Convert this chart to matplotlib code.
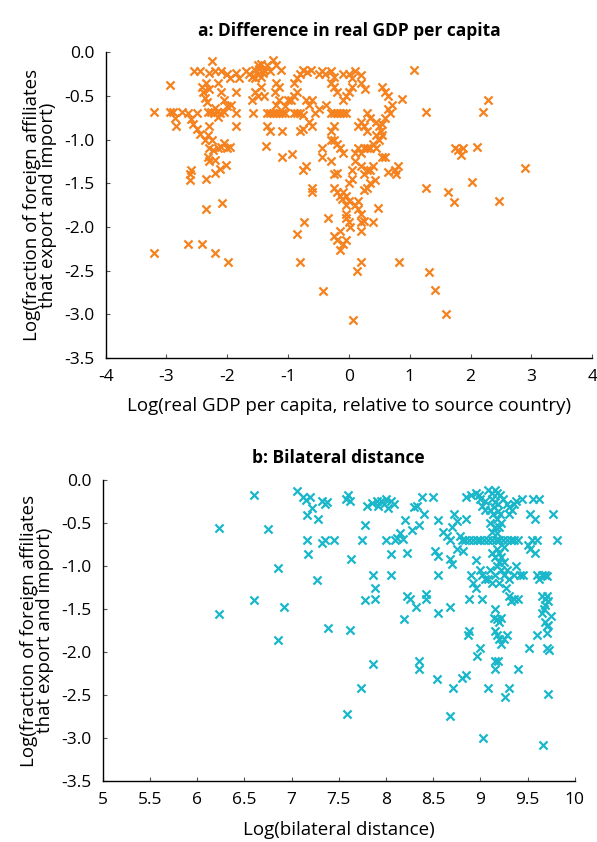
import numpy as np
import matplotlib
matplotlib.use("Agg")
import matplotlib.pyplot as plt
from matplotlib.ticker import FormatStrFormatter

plt.rcParams['font.family'] = ['Open Sans', 'DejaVu Sans']
plt.rcParams['axes.unicode_minus'] = False

# panel a: log GDP per capita relative to source vs log share of affiliates
gdp_pts = [
    (-3.2, -0.68), (-3.2, -2.30), (-2.94, -0.38), (-2.95, -0.68), (-2.9, -0.68), (-2.86, -0.75), (-2.85, -0.84), (-2.75, -0.68),
    (-2.65, -2.20), (-2.65, -0.70), (-2.6, -0.76), (-2.57, -0.82), (-2.6, -1.35), (-2.61, -1.40), (-2.62, -1.46),
    (-2.55, -0.21), (-2.45, -0.21), (-2.5, -0.70), (-2.5, -0.88), (-2.45, -0.94),
    (-2.42, -0.40), (-2.4, -0.46), (-2.37, -0.52), (-2.33, -0.57), (-2.3, -0.42), (-2.35, -0.35), (-2.3, -0.24),
    (-2.41, -2.20), (-2.32, -0.68), (-2.27, -0.68), (-2.22, -0.70), (-2.17, -0.68), (-2.12, -0.70), (-2.06, -0.68),
    (-2.2, -0.64), (-2.15, -0.74),
    (-2.3, -0.84), (-2.32, -0.95), (-2.37, -1.00), (-2.25, -1.00),
    (-2.3, -1.10), (-2.24, -1.12), (-2.16, -1.10), (-2.1, -1.08), (-2.05, -1.04), (-2.0, -1.10), (-1.95, -1.08),
    (-2.32, -1.20), (-2.3, -1.25), (-2.2, -1.24), (-2.35, -1.45), (-2.35, -1.80), (-2.2, -1.38), (-2.12, -1.34),
    (-2.08, -1.73), (-2.2, -2.30), (-1.99, -2.40), (-2.02, -1.29),
    (-2.2, -0.22), (-2.1, -0.22), (-2.0, -0.25), (-1.95, -0.30), (-2.15, -0.35), (-2.1, -0.45), (-2.05, -0.55),
    (-2.0, -0.62), (-1.94, -0.60),
    (-2.25, -0.10), (-1.85, -0.24), (-1.8, -0.30), (-1.85, -0.45), (-1.85, -0.70), (-1.85, -0.84),
    (-1.7, -0.22), (-1.65, -0.25), (-1.6, -0.28), (-1.55, -0.20), (-1.5, -0.15), (-1.45, -0.14), (-1.4, -0.20),
    (-1.5, -0.25), (-1.55, -0.30), (-1.45, -0.28), (-1.48, -0.19), (-1.42, -0.24),
    (-1.35, -0.15), (-1.25, -0.09), (-1.2, -0.15), (-1.3, -0.22),
    (-1.6, -0.55), (-1.55, -0.45), (-1.5, -0.50), (-1.45, -0.40), (-1.4, -0.50), (-1.58, -0.70),
    (-1.35, -0.70), (-1.3, -0.70), (-1.25, -0.70), (-1.2, -0.70), (-1.15, -0.70), (-1.1, -0.70), (-1.05, -0.70),
    (-1.35, -0.85), (-1.3, -0.90), (-1.36, -1.07),
    (-1.2, -0.60), (-1.15, -0.55), (-1.2, -0.35), (-1.15, -0.40), (-1.22, -0.45),
    (-1.11, -0.20), (-1.0, -0.55), (-1.05, -0.62), (-1.1, -0.90), (-1.1, -1.20),
    (-0.9, -0.35), (-0.85, -0.30), (-0.8, -0.25), (-0.75, -0.20), (-0.69, -0.23), (-0.62, -0.20),
    (-0.95, -0.55), (-0.9, -0.50), (-0.85, -0.45),
    (-0.9, -0.70), (-0.85, -0.70), (-0.8, -0.70), (-0.75, -0.72),
    (-0.93, -1.17), (-0.8, -0.90), (-0.75, -0.88),
    (-0.7, -0.55), (-0.65, -0.60), (-0.6, -0.55), (-0.65, -0.80), (-0.6, -0.85),
    (-0.75, -1.35), (-0.7, -1.30), (-0.86, -2.08), (-0.74, -1.94), (-0.8, -2.40),
    (-0.6, -1.55), (-0.6, -1.60), (-0.55, -0.70), (-0.5, -0.65),
    (-0.5, -0.25), (-0.45, -0.22), (-0.4, -0.25), (-0.38, -0.60), (-0.45, -1.10), (-0.45, -1.20),
    (-0.43, -2.73), (-0.34, -1.90),
    (-0.3, -0.22), (-0.25, -0.28), (-0.3, -0.35), (-0.25, -0.40), (-0.2, -0.45),
    (-0.3, -0.70), (-0.25, -0.70), (-0.2, -0.70), (-0.15, -0.70), (-0.1, -0.70), (-0.05, -0.70),
    (-0.25, -0.85), (-0.3, -0.90),
    (-0.3, -1.00), (-0.25, -1.00), (-0.2, -1.05), (-0.15, -1.10), (-0.1, -1.15),
    (-0.3, -1.25), (-0.25, -1.40), (-0.2, -1.38),
    (-0.25, -1.55), (-0.2, -1.60), (-0.15, -1.65), (-0.1, -1.60), (-0.05, -1.65), (0.0, -1.70), (-0.05, -1.75),
    (-0.12, -1.68),
    (-0.25, -2.10), (-0.2, -2.15), (-0.15, -2.05), (-0.1, -2.20), (-0.05, -2.15), (-0.14, -2.27),
    (-0.05, -1.90), (0.0, -1.95), (0.02, -2.00), (-0.05, -1.85),
    (-0.1, -0.25), (0.0, -0.25), (0.05, -0.30), (0.1, -0.22), (0.19, -0.26),
    (-0.1, -0.55), (-0.05, -0.50), (0.0, -0.45), (0.05, -0.40),
    (0.06, -3.07), (0.13, -2.50), (0.2, -2.40),
    (0.05, -1.35), (0.1, -1.25), (0.0, -1.50), (0.05, -1.45),
    (0.1, -1.15), (0.15, -1.10), (0.2, -1.15),
    (0.1, -1.75), (0.15, -1.80), (0.2, -1.85), (0.15, -1.70), (0.2, -1.95), (0.25, -1.93), (0.2, -2.05),
    (0.15, -0.85), (0.2, -0.80), (0.25, -0.85), (0.3, -0.90), (0.26, -0.42), (0.2, -0.35),
    (0.25, -1.10), (0.3, -1.10), (0.35, -1.10), (0.4, -1.05),
    (0.2, -1.30), (0.25, -1.40), (0.3, -1.35), (0.35, -1.35), (0.4, -1.30), (0.35, -1.50), (0.3, -1.55), (0.25, -1.58),
    (0.3, -0.70), (0.35, -0.75),
    (0.45, -0.80), (0.5, -0.85), (0.52, -0.90), (0.45, -0.95), (0.5, -1.00), (0.55, -0.95), (0.45, -1.10), (0.55, -0.82),
    (0.43, -1.46), (0.48, -1.78), (0.40, -1.94),
    (0.55, -0.40), (0.6, -0.45), (0.65, -0.50), (0.6, -0.75), (0.65, -0.65), (0.7, -0.60), (0.67, -0.70),
    (0.55, -1.20), (0.6, -1.20), (0.65, -1.37), (0.75, -1.35), (0.8, -1.30), (0.78, -1.40),
    (0.87, -0.54), (0.83, -2.40), (1.07, -0.20), (1.26, -0.68), (1.26, -1.55), (1.31, -2.52), (1.42, -2.72), (1.6, -3.00),
    (1.63, -1.60), (1.73, -1.71), (1.75, -1.10), (1.8, -1.12), (1.85, -1.18), (1.88, -1.10),
    (2.03, -1.49), (2.11, -1.09), (2.2, -0.68), (2.28, -0.55), (2.47, -1.70), (2.89, -1.33),
]

# panel b: log bilateral distance vs log share of affiliates
dist_pts = [
    (6.23, -0.56), (6.23, -1.56), (6.60, -0.18), (6.60, -1.39), (6.75, -0.57), (6.86, -1.02), (6.86, -1.86), (6.92, -1.48),
    (7.06, -0.13), (7.12, -0.20), (7.15, -0.23), (7.20, -0.20), (7.16, -0.41), (7.16, -0.70), (7.17, -0.86),
    (7.22, -0.33), (7.28, -0.45),
    (7.27, -1.16), (7.32, -0.24), (7.35, -0.28), (7.38, -0.26), (7.35, -0.70), (7.32, -0.73), (7.39, -1.72), (7.45, -0.70),
    (7.58, -0.22), (7.60, -0.18), (7.62, -0.25), (7.59, -2.72), (7.63, -0.92), (7.62, -1.74),
    (7.75, -0.70), (7.78, -0.52), (7.80, -0.30), (7.85, -0.27), (7.74, -2.42), (7.78, -1.39), (7.86, -1.10),
    (7.86, -2.14), (7.88, -1.26), (7.88, -1.38),
    (7.90, -0.25), (7.92, -0.30), (7.95, -0.25), (7.98, -0.28), (8.00, -0.22), (8.02, -0.33), (8.05, -0.25), (8.08, -0.28),
    (8.00, -0.70), (8.05, -0.86), (8.05, -1.10), (8.10, -0.70), (8.12, -0.67), (8.15, -0.62), (8.18, -0.68), (8.19, -1.62),
    (8.20, -0.47), (8.22, -0.85), (8.22, -1.35), (8.25, -1.38), (8.28, -0.58), (8.30, -0.32), (8.33, -0.30),
    (8.35, -0.52), (8.40, -0.40),
    (8.32, -1.48), (8.35, -2.10), (8.35, -2.20), (8.38, -0.20), (8.42, -1.32), (8.42, -1.38), (8.50, -0.20),
    (8.52, -0.82), (8.55, -0.88), (8.55, -0.47), (8.55, -1.10), (8.55, -1.55), (8.54, -2.31),
    (8.60, -0.60), (8.65, -0.65), (8.68, -0.70), (8.70, -0.55), (8.72, -0.40), (8.75, -0.48),
    (8.68, -0.92), (8.70, -0.98), (8.75, -0.80), (8.68, -1.47), (8.71, -2.41), (8.68, -2.74),
    (8.78, -0.65), (8.80, -0.70), (8.84, -0.70), (8.88, -0.70), (8.92, -0.70), (8.96, -0.70), (8.82, -0.82), (8.85, -0.45),
    (8.80, -2.30), (8.85, -2.27), (8.88, -1.75), (8.87, -1.80),
    (8.85, -0.20), (8.90, -0.18), (8.95, -0.15), (8.98, -0.18),
    (8.88, -1.38), (8.90, -1.10), (8.92, -1.20), (8.95, -1.25), (8.95, -0.93), (9.00, -1.05),
    (8.96, -2.05), (9.00, -1.95), (9.03, -3.00),
    (9.05, -0.25), (9.00, -0.22), (9.02, -0.30), (9.05, -0.35), (9.02, -1.38), (9.02, -1.10), (9.05, -1.15), (9.08, -2.42),
    (9.08, -0.12), (9.12, -0.15), (9.15, -0.12), (9.18, -0.15), (9.21, -0.18), (9.12, -0.22), (9.15, -0.26),
    (9.19, -0.28), (9.24, -0.22), (9.10, -0.35), (9.13, -0.40), (9.17, -0.45), (9.21, -0.40), (9.10, -0.50),
    (9.15, -0.55), (9.20, -0.55), (9.12, -0.60), (9.18, -0.62), (9.22, -0.50), (9.14, -0.32), (9.19, -0.36),
    (9.00, -0.70), (9.04, -0.70), (9.08, -0.70), (9.12, -0.70), (9.16, -0.70), (9.20, -0.70), (9.24, -0.70),
    (9.28, -0.70), (9.32, -0.70), (9.36, -0.70), (9.40, -0.70),
    (9.12, -0.85), (9.15, -0.90), (9.20, -0.85), (9.22, -0.90), (9.25, -0.95), (9.18, -1.00), (9.22, -1.05),
    (9.15, -1.10), (9.10, -1.05), (9.08, -1.15), (9.12, -1.20), (9.25, -1.10), (9.28, -1.05), (9.30, -1.15),
    (9.20, -1.20), (9.27, -1.25), (9.17, -0.80), (9.25, -0.78), (9.20, -0.95),
    (9.15, -1.50), (9.14, -1.60), (9.17, -1.62), (9.20, -1.65), (9.22, -1.60), (9.15, -1.75), (9.18, -1.80),
    (9.20, -1.85), (9.22, -1.90), (9.25, -1.85), (9.28, -1.80),
    (9.15, -2.10), (9.15, -2.20), (9.19, -2.10), (9.26, -2.52), (9.30, -2.42),
    (9.28, -0.28), (9.30, -0.32), (9.33, -0.35), (9.35, -0.28), (9.38, -0.25), (9.30, -0.40),
    (9.30, -1.35), (9.32, -1.40), (9.35, -1.38), (9.35, -1.10),
    (9.40, -2.20), (9.40, -1.38), (9.42, -1.10), (9.45, -1.10), (9.38, -1.00),
    (9.44, -0.22), (9.56, -0.22), (9.52, -0.40), (9.50, -0.75), (9.55, -0.70), (9.58, -0.45), (9.60, -0.70),
    (9.52, -0.80), (9.58, -0.85),
    (9.51, -1.95), (9.60, -1.80),
    (9.60, -1.10), (9.62, -1.15), (9.65, -1.10), (9.68, -1.10), (9.70, -1.12),
    (9.65, -1.35), (9.68, -1.38), (9.70, -1.35), (9.72, -1.40), (9.68, -1.45), (9.65, -1.55), (9.67, -1.50),
    (9.68, -1.65), (9.70, -1.70), (9.70, -1.78), (9.72, -1.68), (9.70, -1.95), (9.73, -1.98),
    (9.72, -2.48), (9.66, -3.08), (9.77, -0.40), (9.81, -0.70), (9.75, -1.58), (9.62, -0.22),
]

y_ticks = [0.0, -0.5, -1.0, -1.5, -2.0, -2.5, -3.0, -3.5]
gdp_xticks = [-4, -3, -2, -1, 0, 1, 2, 3, 4]
dist_xticks = [5, 5.5, 6, 6.5, 7, 7.5, 8, 8.5, 9, 9.5, 10]

orange = '#f5821f'
cyan = '#1ab7ca'
ylab = "Log(fraction of foreign affiliates\nthat export and import)"

fig = plt.figure(figsize=(5.97, 8.42), dpi=100)
ax1 = fig.add_axes([0.177, 0.575, 0.815, 0.363])
ax2 = fig.add_axes([0.172, 0.072, 0.791, 0.358])


def style(ax, xticks, xlim):
    ax.set_xlim(xlim)
    ax.set_ylim(-3.5, 0)
    ax.set_xticks(xticks)
    ax.set_yticks(y_ticks)
    ax.yaxis.set_major_formatter(FormatStrFormatter('%.1f'))
    ax.xaxis.set_major_formatter(FormatStrFormatter('%g'))
    for s in ['top', 'right']:
        ax.spines[s].set_visible(False)
    for s in ['left', 'bottom']:
        ax.spines[s].set_linewidth(1.0)
    ax.tick_params(direction='in', length=3, width=0.8, color='#555555', labelsize=12.5, pad=8)
    ax.set_ylabel(ylab, fontsize=13.5, linespacing=0.9, labelpad=5)


a = np.array(gdp_pts)
ax1.scatter(a[:, 0], a[:, 1], marker='x', s=34, linewidths=1.6, color=orange, clip_on=False)
style(ax1, gdp_xticks, (-4, 4))
ax1.set_xlabel("Log(real GDP per capita, relative to source country)", fontsize=13.5, labelpad=9)
ax1.set_title("a: Difference in real GDP per capita", fontsize=12.5, fontweight='bold', pad=12)

b = np.array(dist_pts)
ax2.scatter(b[:, 0], b[:, 1], marker='x', s=34, linewidths=1.6, color=cyan, clip_on=False)
style(ax2, dist_xticks, (5, 10))
ax2.set_xlabel("Log(bilateral distance)", fontsize=13.5, labelpad=9)
ax2.set_title("b: Bilateral distance", fontsize=12.5, fontweight='bold', pad=12)

fig.savefig("out.png", dpi=100)
